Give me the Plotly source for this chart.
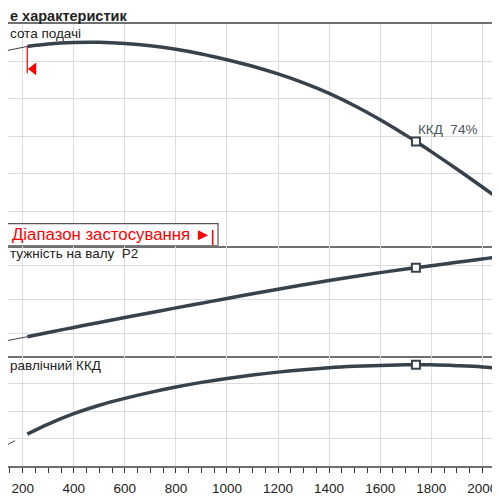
import plotly.graph_objects as go
from plotly.subplots import make_subplots

# Flow rate Q (shared x axis) and the three characteristic curves
q_main = [218, 300, 400, 500, 600, 700, 800, 900, 1000, 1100, 1200, 1300, 1400,
          1500, 1600, 1700, 1740, 1800, 1900, 2000, 2069]
head = [10.80, 10.93, 11.01, 11.02, 10.96, 10.84, 10.65, 10.40, 10.09, 9.74, 9.33,
        8.85, 8.29, 7.63, 6.88, 6.06, 5.72, 5.18, 4.25, 3.29, 2.61]
power = [0.945, 1.008, 1.083, 1.157, 1.230, 1.302, 1.373, 1.443, 1.513, 1.582, 1.650,
         1.716, 1.780, 1.840, 1.897, 1.950, 1.970, 2.000, 2.050, 2.100, 2.130]
eff = [23.3, 30.6, 38.2, 44.4, 49.4, 53.8, 57.7, 61.1, 64.0, 66.5, 68.6, 70.4, 71.8,
       72.8, 73.5, 73.9, 74.0, 73.9, 73.3, 72.4, 71.2]

# thin extrapolated start of the curves
q_thin = [138, 218]
head_thin = [10.58, 10.80]
power_thin = [0.886, 0.945]
q_eff_thin = [120, 170]
eff_thin = [13.7, 18.5]

# best efficiency point
q_bep = 1740
head_bep = 5.72
power_bep = 1.970
eff_bep = 74.0
bep_label = "ККД  74%"

# application range start
q_range_start = 218
q_range_label_end = 965

x_ticks = [200, 400, 600, 800, 1000, 1200, 1400, 1600, 1800, 2000]

curve_color = "#37424c"
grid_color = "#dcdcdc"
frame_color = "#707070"
red = "#ff0000"

# the page puts the figure 8px in from the top-left corner,
# so the figure covers reference pixels 8..500
OFF = 8
W = 500 - OFF


def py(p):
    # reference pixel row -> paper y (plot area spans rows 24..466)
    return (466 - p) / 442


def px(p):
    # reference pixel column -> paper x
    return (p - OFF) / W


fig = make_subplots(rows=3, cols=1, shared_xaxes=True, vertical_spacing=0)

# head panel
fig.add_trace(go.Scatter(x=q_thin, y=head_thin, mode="lines",
                         line=dict(color=curve_color, width=1)), row=1, col=1)
fig.add_trace(go.Scatter(x=q_main, y=head, mode="lines",
                         line=dict(color=curve_color, width=3.5, shape="spline")), row=1, col=1)
fig.add_trace(go.Scatter(x=[q_bep], y=[head_bep], mode="markers",
                         marker=dict(symbol="square", size=8, color="white",
                                     line=dict(color=curve_color, width=2))), row=1, col=1)
fig.add_trace(go.Scatter(x=[q_range_start + 24], y=[9.6], mode="markers",
                         marker=dict(symbol="triangle-left", size=11, color=red)), row=1, col=1)

# power panel
fig.add_trace(go.Scatter(x=q_thin, y=power_thin, mode="lines",
                         line=dict(color=curve_color, width=1)), row=2, col=1)
fig.add_trace(go.Scatter(x=q_main, y=power, mode="lines",
                         line=dict(color=curve_color, width=3.5, shape="spline")), row=2, col=1)
fig.add_trace(go.Scatter(x=[q_bep], y=[power_bep], mode="markers",
                         marker=dict(symbol="square", size=8, color="white",
                                     line=dict(color=curve_color, width=2))), row=2, col=1)

# efficiency panel
fig.add_trace(go.Scatter(x=q_eff_thin, y=eff_thin, mode="lines",
                         line=dict(color=curve_color, width=1)), row=3, col=1)
fig.add_trace(go.Scatter(x=q_main, y=eff, mode="lines",
                         line=dict(color=curve_color, width=3.5, shape="spline")), row=3, col=1)
fig.add_trace(go.Scatter(x=[q_bep], y=[eff_bep], mode="markers",
                         marker=dict(symbol="square", size=8, color="white",
                                     line=dict(color=curve_color, width=2))), row=3, col=1)

xcommon = dict(range=[142.4, 2069.3], tickmode="array", tickvals=x_ticks,
               showgrid=True, gridcolor=grid_color, gridwidth=1,
               showline=True, mirror=False, linecolor=frame_color, linewidth=1.5,
               zeroline=False)
fig.update_xaxes(**xcommon)
fig.update_xaxes(showticklabels=False, ticks="", mirror=True, row=1, col=1)
fig.update_xaxes(showticklabels=False, ticks="", row=2, col=1)
fig.update_xaxes(ticks="outside", ticklen=5, tickwidth=1, tickcolor="#333333",
                 ticklabelstandoff=4,
                 tickfont=dict(family="Liberation Sans, Arial", size=13.5, color="#222222"),
                 minor=dict(dtick=50, tick0=0, ticks="outside", ticklen=5,
                            tickcolor="#333333", showgrid=False),
                 row=3, col=1)

ycommon = dict(showticklabels=False, showgrid=True, gridcolor=grid_color, gridwidth=1,
               zeroline=False, showline=False, ticks="")
fig.update_yaxes(**ycommon)
fig.update_yaxes(range=[0.15, 12], dtick=2, tick0=0, domain=[py(245.7), 1], row=1, col=1)
fig.update_yaxes(range=[0.663, 2.297], dtick=0.5, tick0=0,
                 domain=[py(355.7), py(245.7)], row=2, col=1)
fig.update_yaxes(range=[0, 80.6], dtick=20, tick0=0, domain=[0, py(355.7)], row=3, col=1)

# red range marker on the head curve
fig.add_shape(type="line", xref="x", yref="y", x0=q_range_start, x1=q_range_start,
              y0=head[0], y1=9.37, line=dict(color=red, width=1.2))

# application range label box
fig.add_shape(type="rect", xref="x", yref="y", x0=60, x1=q_range_label_end,
              y0=0.15, y1=1.33, fillcolor="white",
              line=dict(color="#555555", width=1.2), layer="above")
fig.add_shape(type="line", xref="x", yref="paper", x0=944, x1=944,
              y0=py(230), y1=py(245), line=dict(color=red, width=1.5), layer="above")

font_main = "Liberation Sans, Arial, sans-serif"
annotations = [
    dict(text="<b>е характеристик</b>", x=0, y=py(15.5), xanchor="left", yanchor="middle",
         font=dict(size=14.5, color="#222222")),
    dict(text="сота подачі", x=0, y=py(33), xanchor="left", yanchor="middle",
         font=dict(size=13.5, color="#222222")),
    dict(text="Діапазон застосування ►", x=px(10), y=py(234), xanchor="left",
         yanchor="middle", font=dict(size=16.8, color=red)),
    dict(text="тужність на валу  P2", x=0, y=py(254), xanchor="left", yanchor="middle",
         font=dict(size=13.5, color="#222222")),
    dict(text="равлічний ККД", x=0, y=py(365), xanchor="left", yanchor="middle",
         font=dict(size=13.5, color="#222222")),
]
for a in annotations:
    a.update(xref="paper", yref="paper", showarrow=False)
    a["font"]["family"] = font_main
    fig.add_annotation(**a)

fig.add_annotation(text=bep_label, xref="x", yref="y", x=q_bep, y=head_bep,
                   xanchor="left", yanchor="bottom", xshift=0, yshift=2, showarrow=False,
                   font=dict(family=font_main, size=13.5, color="#4a5662"))

fig.update_layout(
    width=W, height=W,
    margin=dict(l=0, r=0, t=24 - OFF, b=500 - 466),
    paper_bgcolor="white", plot_bgcolor="white",
    showlegend=False,
)

fig.write_html("out.html")
